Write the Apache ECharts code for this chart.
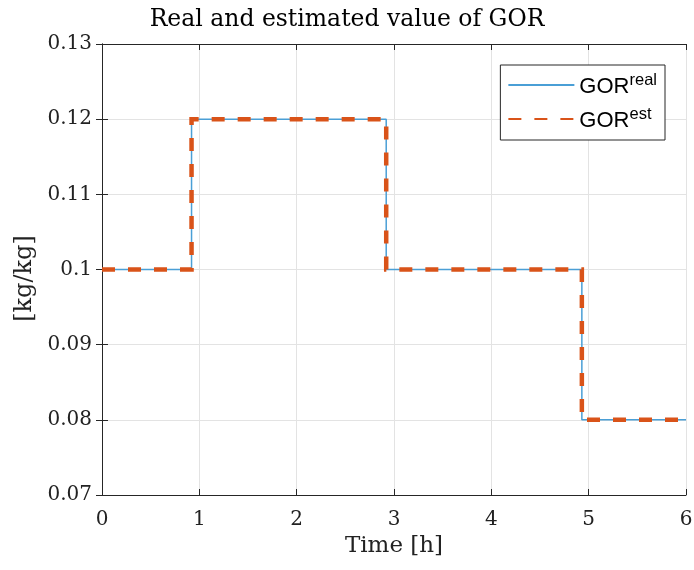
<!DOCTYPE html>
<html>
<head>
<meta charset="utf-8">
<script src="https://cdn.jsdelivr.net/npm/echarts@6/dist/echarts.min.js"></script>
<style>
  html, body { margin: 0; padding: 0; background: #fff; }
  #chart { width: 694px; height: 570px; }
</style>
</head>
<body>
<div id="chart"></div>
<script>
// Switching instants [h] and the GOR level that holds from each instant on
const switchTimes = [0, 0.92, 2.92, 4.93, 6];
const gorReal = [0.1, 0.12, 0.1, 0.08, 0.08];
const gorEst = [0.1, 0.12, 0.1, 0.08, 0.08];

const xTicks = [0, 1, 2, 3, 4, 5, 6];
const yTicks = [0.07, 0.08, 0.09, 0.1, 0.11, 0.12, 0.13];

const serif = 'DejaVu Serif';
const axisColor = '#262626';

function pairs(xs, ys) {
  return xs.map((x, i) => [x, ys[i]]);
}

const chart = echarts.init(document.getElementById('chart'), null, { renderer: 'canvas' });

const baseAxis = {
  axisLine: { show: true, lineStyle: { color: axisColor, width: 1 } },
  axisTick: { show: true, inside: true, length: 6, lineStyle: { color: axisColor } },
};

chart.setOption({
  animation: false,
  backgroundColor: '#fff',
  title: {
    text: 'Real and estimated value of GOR',
    left: 'center',
    top: 3,
    textStyle: { fontFamily: serif, fontWeight: 'normal', fontSize: 23.5, color: '#000' }
  },
  grid: { left: 102, right: 8, top: 44, bottom: 75, containLabel: false, outerBoundsMode: 'none' },
  legend: {
    orient: 'vertical',
    right: 29,
    top: 65,
    padding: [7, 8, 8, 7],
    itemGap: 8,
    itemWidth: 66,
    itemHeight: 26,
    backgroundColor: '#fff',
    borderColor: axisColor,
    borderWidth: 1,
    borderRadius: 0,
    itemStyle: { opacity: 0 },
    data: ['real', 'est'],
    formatter: name => '{b|GOR}{s|' + name + '}',
    textStyle: {
      rich: {
        b: { fontFamily: 'Liberation Sans', fontSize: 22, color: '#000', verticalAlign: 'bottom' },
        s: { fontFamily: 'Liberation Sans', fontSize: 16.5, color: '#000', verticalAlign: 'bottom', padding: [0, 0, 9, 0] }
      }
    }
  },
  xAxis: [
    Object.assign({}, baseAxis, {
      type: 'value',
      min: 0, max: 6, interval: 1,
      position: 'bottom',
      name: 'Time [h]',
      nameLocation: 'middle',
      nameGap: 40,
      nameTextStyle: { fontFamily: serif, fontSize: 23, color: '#222' },
      axisLabel: { fontFamily: serif, fontSize: 20, color: '#222', margin: 15,
                   formatter: v => xTicks.includes(v) ? String(v) : '' },
      splitLine: { show: true, lineStyle: { color: '#e3e3e3', width: 1 } }
    }),
    Object.assign({}, baseAxis, {
      type: 'value', min: 0, max: 6, interval: 1, position: 'top',
      axisLabel: { show: false }, splitLine: { show: false }
    })
  ],
  yAxis: [
    Object.assign({}, baseAxis, {
      type: 'value',
      min: 0.07, max: 0.13, interval: 0.01,
      position: 'left',
      name: '[kg/kg]',
      nameLocation: 'middle',
      nameGap: 64,
      nameTextStyle: { fontFamily: serif, fontSize: 24, color: '#222', padding: [0, 18, 0, 0] },
      axisLabel: { fontFamily: serif, fontSize: 20, color: '#222', margin: 10,
                   formatter: v => {
                     const t = yTicks.find(y => Math.abs(y - v) < 1e-9);
                     return t === undefined ? '' : String(t);
                   } },
      splitLine: { show: true, lineStyle: { color: '#e3e3e3', width: 1 } }
    }),
    Object.assign({}, baseAxis, {
      type: 'value', min: 0.07, max: 0.13, interval: 0.01, position: 'right',
      axisLabel: { show: false }, splitLine: { show: false }
    })
  ],
  series: [
    {
      name: 'real',
      type: 'line',
      step: 'end',
      symbol: 'none',
      data: pairs(switchTimes, gorReal),
      lineStyle: { color: '#4a9fd6', width: 1.5 },
      itemStyle: { color: '#4a9fd6' },
      z: 2
    },
    {
      name: 'est',
      type: 'line',
      step: 'end',
      symbol: 'none',
      data: pairs(switchTimes, gorEst),
      lineStyle: { color: '#d95319', width: 4.5, type: [13, 13], cap: 'butt', join: 'miter' },
      itemStyle: { color: '#d95319' },
      z: 3
    }
  ]
});
</script>
</body>
</html>
